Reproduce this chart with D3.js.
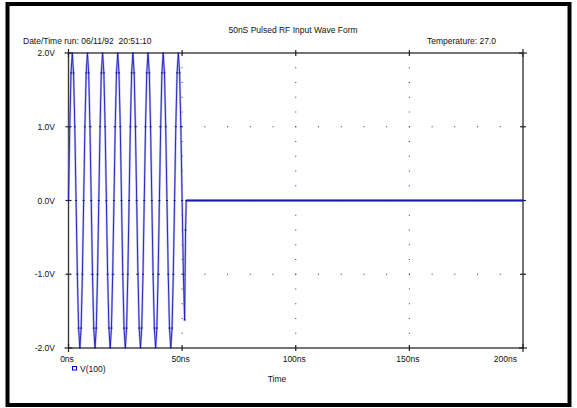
<!DOCTYPE html>
<html>
<head>
<meta charset="utf-8">
<script src="https://cdn.jsdelivr.net/npm/d3@7"></script>
<style>
  html, body { margin: 0; padding: 0; background: #fff; }
  text { font-family: "Liberation Sans", Arial, sans-serif; font-size: 8.5px; fill: #111; white-space: pre; }
</style>
</head>
<body>
<div id="chart"></div>
<script>
// time (ns) and voltage (V) of trace V(100)
const timeNs = [
  0, 0.56, 1.11, 1.67, 2.22, 2.78, 3.33, 3.89, 4.44, 5, 5.56, 6.11,
  6.67, 7.22, 7.78, 8.33, 8.89, 9.44, 10, 10.56, 11.11, 11.67, 12.22, 12.78,
  13.33, 13.89, 14.44, 15, 15.56, 16.11, 16.67, 17.22, 17.78, 18.33, 18.89, 19.44,
  20, 20.56, 21.11, 21.67, 22.22, 22.78, 23.33, 23.89, 24.44, 25, 25.56, 26.11,
  26.67, 27.22, 27.78, 28.33, 28.89, 29.44, 30, 30.56, 31.11, 31.67, 32.22, 32.78,
  33.33, 33.89, 34.44, 35, 35.56, 36.11, 36.67, 37.22, 37.78, 38.33, 38.89, 39.44,
  40, 40.56, 41.11, 41.67, 42.22, 42.78, 43.33, 43.89, 44.44, 45, 45.56, 46.11,
  46.67, 47.22, 47.78, 48.33, 48.89, 49.44, 50,
  50.56, 51.1, 51.5, 51.8, 60, 80, 100, 120, 140, 160, 180, 200
];
const volts = [
  0, 1, 1.73, 2, 1.73, 1, 0, -1, -1.73, -2, -1.73, -1,
  0, 1, 1.73, 2, 1.73, 1, 0, -1, -1.73, -2, -1.73, -1,
  0, 1, 1.73, 2, 1.73, 1, 0, -1, -1.73, -2, -1.73, -1,
  0, 1, 1.73, 2, 1.73, 1, 0, -1, -1.73, -2, -1.73, -1,
  0, 1, 1.73, 2, 1.73, 1, 0, -1, -1.73, -2, -1.73, -1,
  0, 1, 1.73, 2, 1.73, 1, 0, -1, -1.73, -2, -1.73, -1,
  0, 1, 1.73, 2, 1.73, 1, 0, -1, -1.73, -2, -1.73, -1,
  0, 1, 1.73, 2, 1.73, 1, 0,
  -1, -1.62, -0.4, 0, 0, 0, 0, 0, 0, 0, 0, 0
];

const xTicks = [0, 50, 100, 150, 200];
const xTickLabels = ["0ns", "50ns", "100ns", "150ns", "200ns"];
const yTicks = [-2, -1, 0, 1, 2];
const yTickLabels = ["-2.0V", "-1.0V", "0.0V", "1.0V", "2.0V"];

const title = "50nS Pulsed RF Input Wave Form";
const runLabel = "Date/Time run: 06/11/92  20:51:10";
const tempLabel = "Temperature: 27.0";
const seriesName = "V(100)";

const W = 577, H = 408;
const plot = { left: 68.5, right: 523, top: 53, bottom: 348 };

const svg = d3.select("#chart").append("svg")
  .attr("width", W)
  .attr("height", H);

// page frame
svg.append("rect")
  .attr("x", 7.5).attr("y", 4)
  .attr("width", 562).attr("height", 401)
  .attr("fill", "none")
  .attr("stroke", "#000")
  .attr("stroke-width", 4);

const x = d3.scaleLinear().domain([0, 200]).range([plot.left, plot.right]);
const y = d3.scaleLinear().domain([-2, 2]).range([plot.bottom, plot.top]);

// dotted grid
const gridDots = svg.append("g").attr("fill", "#333");
[50, 100, 150].forEach(t => {
  d3.range(-2, 2.0001, 0.2).forEach(v => {
    gridDots.append("rect")
      .attr("x", x(t) - 0.5).attr("y", y(v) - 0.5)
      .attr("width", 1).attr("height", 1);
  });
});
[-1, 0, 1].forEach(v => {
  d3.range(0, 200.001, 10).forEach(t => {
    gridDots.append("rect")
      .attr("x", x(t) - 0.5).attr("y", y(v) - 0.5)
      .attr("width", 1).attr("height", 1);
  });
});

// axis box
svg.append("rect")
  .attr("x", plot.left).attr("y", plot.top)
  .attr("width", plot.right - plot.left)
  .attr("height", plot.bottom - plot.top)
  .attr("fill", "none")
  .attr("stroke", "#3a3a3a")
  .attr("stroke-width", 1.4);

const ticks = svg.append("g").attr("stroke", "#222").attr("stroke-width", 1.2);
xTicks.forEach(t => {
  const ext = (t === 0 || t === 200) ? 4 : 3;
  ticks.append("line").attr("x1", x(t)).attr("x2", x(t))
    .attr("y1", plot.top - ext).attr("y2", plot.top + ext);
  ticks.append("line").attr("x1", x(t)).attr("x2", x(t))
    .attr("y1", plot.bottom - ext).attr("y2", plot.bottom + ext);
});
yTicks.forEach(v => {
  const ext = (v === 2 || v === -2) ? 4 : 3;
  ticks.append("line").attr("y1", y(v)).attr("y2", y(v))
    .attr("x1", plot.left - ext).attr("x2", plot.left + ext);
  ticks.append("line").attr("y1", y(v)).attr("y2", y(v))
    .attr("x1", plot.right - ext).attr("x2", plot.right + ext);
});

// tick labels
yTicks.forEach((v, i) => {
  svg.append("text")
    .attr("x", 55).attr("y", y(v) + 3)
    .attr("text-anchor", "end")
    .text(yTickLabels[i]);
});
xTicks.forEach((t, i) => {
  const last = i === xTicks.length - 1;
  svg.append("text")
    .attr("x", last ? x(t) - 6 : x(t) - 1.5)
    .attr("y", 362)
    .attr("text-anchor", last ? "end" : "middle")
    .text(xTickLabels[i]);
});

// titles
svg.append("text").attr("x", 293).attr("y", 33).attr("text-anchor", "middle").text(title);
svg.append("text").attr("x", 23).attr("y", 44).text(runLabel);
svg.append("text").attr("x", 427).attr("y", 44).text(tempLabel);
svg.append("text").attr("x", 277).attr("y", 382).attr("text-anchor", "middle").text("Time");

// trace
const pts = timeNs.map((t, i) => [t, volts[i]]);
const line = d3.line().x(d => x(d[0])).y(d => y(d[1]));

svg.append("path")
  .attr("d", line(pts))
  .attr("fill", "none")
  .attr("stroke", "#8a8aea")
  .attr("stroke-opacity", 0.6)
  .attr("stroke-width", 2.2)
  .attr("stroke-linejoin", "round");
svg.append("path")
  .attr("d", line(pts))
  .attr("fill", "none")
  .attr("stroke", "#1a1ab8")
  .attr("stroke-width", 0.9)
  .attr("stroke-linejoin", "round");

// flat tail after the pulse is drawn denser in the original
const tail = pts.filter(d => d[0] >= 51.8);
svg.append("path")
  .attr("d", line(tail))
  .attr("fill", "none")
  .attr("stroke", "#1a1ab0")
  .attr("stroke-width", 1.8);

// data point marks
svg.append("g").attr("fill", "#10108a")
  .selectAll("rect")
  .data(pts)
  .join("rect")
  .attr("x", d => x(d[0]) - 1)
  .attr("y", d => y(d[1]) - 0.5)
  .attr("width", 2)
  .attr("height", 1);

// legend
svg.append("rect")
  .attr("x", 72.5).attr("y", 366.5)
  .attr("width", 4).attr("height", 3.5)
  .attr("fill", "none")
  .attr("stroke", "#0000b4")
  .attr("stroke-width", 1);
svg.append("text").attr("x", 80).attr("y", 372).text(seriesName);
</script>
</body>
</html>
